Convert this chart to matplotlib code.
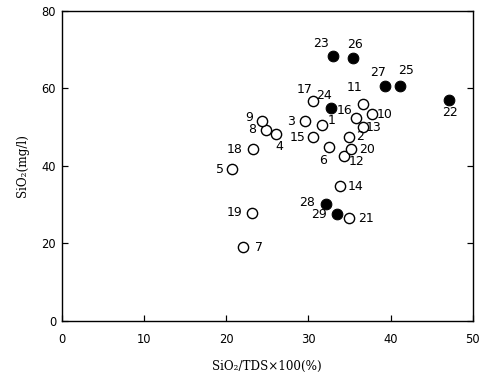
import matplotlib
matplotlib.use("Agg")
import matplotlib.pyplot as plt

# sample number, SiO2/TDS*100 (%), SiO2 (mg/l)
open_ids = [1, 2, 3, 4, 5, 6, 7, 8, 9, 10, 11, 12, 13, 14, 15, 16, 17, 18, 19, 20, 21]
open_x = [31.7, 35.0, 29.6, 26.0, 20.7, 32.5, 22.0, 24.8, 24.3, 37.7, 36.7, 34.3, 36.7, 33.9, 30.6, 35.8, 30.5, 23.3, 23.1, 35.2, 34.9]
open_y = [50.7, 47.6, 51.6, 48.3, 39.1, 44.8, 19.0, 49.3, 51.6, 53.4, 56.0, 42.7, 50.0, 34.8, 47.4, 52.3, 56.8, 44.3, 27.9, 44.5, 26.5]

filled_ids = [22, 23, 24, 25, 26, 27, 28, 29]
filled_x = [47.1, 33.0, 32.8, 41.2, 35.4, 39.3, 32.2, 33.5]
filled_y = [57.0, 68.4, 55.0, 60.6, 67.9, 60.6, 30.1, 27.5]

# label offsets (points) for each sample number
label_off = {
    1: (9, 4), 2: (11, 0), 3: (-14, 0), 4: (4, -13), 5: (-12, 0), 6: (-6, -13),
    7: (16, 0), 8: (-14, 0), 9: (-12, 4), 10: (13, 0), 11: (-9, 16), 12: (13, -6),
    13: (10, 0), 14: (15, 0), 15: (-16, 0), 16: (-12, 8), 17: (-8, 11), 18: (-19, 0),
    19: (-17, 0), 20: (16, -1), 21: (17, 0), 22: (1, -12), 23: (-12, 12), 24: (-7, 12),
    25: (6, 16), 26: (2, 13), 27: (-7, 14), 28: (-19, 2), 29: (-18, 0),
}

fig = plt.figure(figsize=(486 / 72, 391 / 72), dpi=72)
ax = fig.add_axes([0.1276, 0.179, 0.845, 0.793])

ax.scatter(open_x, open_y, s=105, facecolors='white', edgecolors='black', linewidths=1.4, zorder=3)
ax.scatter(filled_x, filled_y, s=115, facecolors='black', edgecolors='black', linewidths=1.0, zorder=3)

for ids, xs, ys in [(open_ids, open_x, open_y), (filled_ids, filled_x, filled_y)]:
    for i, x, y in zip(ids, xs, ys):
        ax.annotate(str(i), (x, y), xytext=label_off[i], textcoords='offset points',
                    ha='center', va='center', fontsize=12.5, family='DejaVu Sans')

ax.set_xlim(0, 50)
ax.set_ylim(0, 80)
ax.set_xticks([0, 10, 20, 30, 40, 50])
ax.set_yticks([0, 20, 40, 60, 80])
ax.tick_params(direction='in', length=6, width=1.2, labelsize=11.5, right=True)
ax.tick_params(axis='x', pad=12)
ax.tick_params(axis='y', pad=6)
for sp in ax.spines.values():
    sp.set_linewidth(1.4)

ax.set_xlabel('SiO₂/TDS×100(%)', family='DejaVu Serif', fontsize=12, labelpad=14)
ax.set_ylabel('SiO₂(mg/l)', family='DejaVu Serif', fontsize=12, labelpad=12)

fig.savefig('out.png', dpi=72)
